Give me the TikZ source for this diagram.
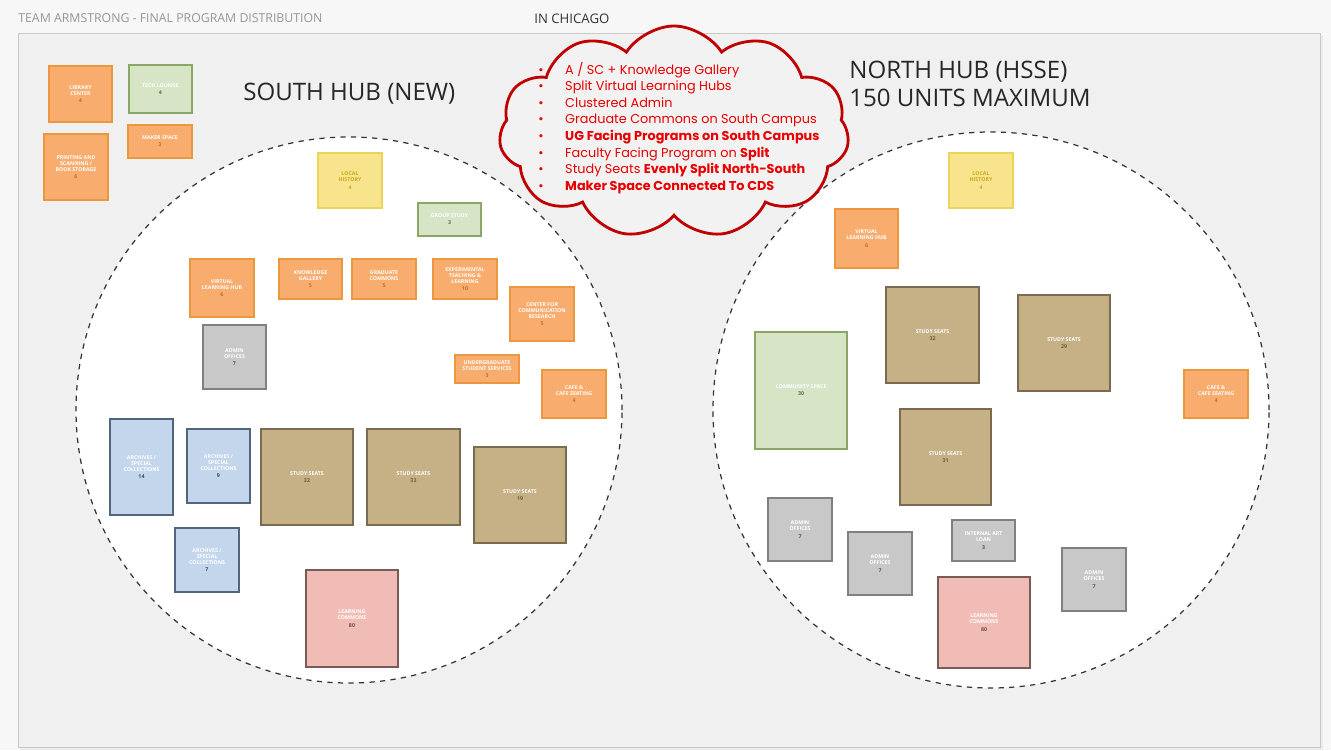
\documentclass[tikz,border=0pt]{standalone}
\usepackage{fontspec}
\setmainfont{Open Sans}
\newfontfamily\cloudfont{Poppins}
\usepackage{tikz}
\usetikzlibrary{shapes.symbols, positioning}
\definecolor{pagebg}{RGB}{247,247,247}
\definecolor{framebg}{RGB}{240,240,240}
\definecolor{frameline}{RGB}{200,200,200}
\definecolor{headgray}{RGB}{150,150,150}
\definecolor{orafill}{RGB}{248,172,110}
\definecolor{oraline}{RGB}{236,150,62}
\definecolor{oranum}{RGB}{196,110,40}
\definecolor{grnfill}{RGB}{215,228,198}
\definecolor{grnline}{RGB}{138,167,101}
\definecolor{grnnum}{RGB}{90,110,70}
\definecolor{yelfill}{RGB}{248,228,140}
\definecolor{yelline}{RGB}{236,212,88}
\definecolor{yelnum}{RGB}{200,168,30}
\definecolor{gryfill}{RGB}{200,200,200}
\definecolor{gryline}{RGB}{128,128,128}
\definecolor{grynum}{RGB}{80,80,80}
\definecolor{blufill}{RGB}{196,214,236}
\definecolor{bluline}{RGB}{82,101,126}
\definecolor{blunum}{RGB}{60,70,90}
\definecolor{tanfill}{RGB}{198,176,134}
\definecolor{tanline}{RGB}{122,106,82}
\definecolor{tannum}{RGB}{110,90,60}
\definecolor{pnkfill}{RGB}{242,188,182}
\definecolor{pnkline}{RGB}{122,92,86}
\definecolor{pnknum}{RGB}{110,70,65}
\definecolor{cloudline}{RGB}{192,0,0}
\definecolor{cloudtext}{RGB}{232,0,0}
\definecolor{cloudfill}{RGB}{242,242,242}
\newcommand{\units}[1]{\\[0.6pt]{\color{numcol}#1}}

\begin{document}
\begin{tikzpicture}[x=0.02cm, y=-0.02cm,
      room/.style 2 args={draw, line width=0.9pt, inner sep=1pt, align=center,
                text=white, minimum width=#1*0.02cm, minimum height=#2*0.02cm,
                font=\fontsize{3}{3.5}\selectfont\bfseries},
      ora/.style={fill=orafill, draw=oraline, execute at begin node=\colorlet{numcol}{oranum}},
      grn/.style={fill=grnfill, draw=grnline, execute at begin node=\colorlet{numcol}{grnnum}},
      yel/.style={fill=yelfill, draw=yelline, text=yelnum, execute at begin node=\colorlet{numcol}{yelnum}},
      gry/.style={fill=gryfill, draw=gryline, execute at begin node=\colorlet{numcol}{grynum}},
      blu/.style={fill=blufill, draw=bluline, execute at begin node=\colorlet{numcol}{blunum}},
      tan/.style={fill=tanfill, draw=tanline, execute at begin node=\colorlet{numcol}{tannum}},
      pnk/.style={fill=pnkfill, draw=pnkline, execute at begin node=\colorlet{numcol}{pnknum}},
      hub/.style={circle, draw=black!80, fill=white, dashed, line width=0.7pt,
                minimum size=#1*0.02cm, inner sep=0pt},
      title/.style={font=\fontsize{13.7}{16}\selectfont, text=black!85, inner sep=0pt}
    ]
      % page and frame
      \fill[pagebg] (0,0) rectangle (1331,750);
      \useasboundingbox (0,0) rectangle (1331,750);
      \fill[black!8] (20,35) rectangle (1323,750);
      \draw[frameline, fill=framebg] (18,33) rectangle (1320,747);
      \node[anchor=west, text=headgray, font=\fontsize{7}{8}\selectfont, inner sep=0pt] (head) at (18,18)
        {TEAM ARMSTRONG - FINAL PROGRAM DISTRIBUTION};
      \node[anchor=west, text=black!80, font=\fontsize{7.5}{9}\selectfont, inner sep=0pt] (city) at (534,19) {IN CHICAGO};

      % hubs
      \node[hub=546] (south) at (349,410) {};
      \node[hub=556] (north) at (991,410) {};
      \node[title, anchor=west] (southt) at (243,94) {SOUTH HUB (NEW)};
      \node[title, anchor=west, align=left] (northt) at (849,84) {NORTH HUB (HSSE)\\150 UNITS MAXIMUM};

      % outside south
      \node[room={63}{56}, ora] (lib) at (80.5,94) {LIBRARY\\CENTER\units{4}};
      \node[room={63}{48}, grn] (tech) at (160.5,89) {TECH LOUNGE\units{4}};
      \node[room={64}{66}, ora] (print) at (76,167) {PRINTING AND\\SCANNING /\\BOOK STORAGE\units{6}};
      \node[room={64}{33}, ora] (maker) at (160,141.5) {MAKER SPACE\units{3}};

      % south hub
      \node[room={64}{55}, yel] (hist) at (350,180.5) {LOCAL\\HISTORY\units{4}};
      \node[room={63}{33}, grn] (group) at (449.5,219.5) {GROUP STUDY\units{3}};
      \node[room={64}{58}, ora] (vlh) at (222,288) {VIRTUAL\\LEARNING HUB\units{6}};
      \node[room={63}{40}, ora] (know) at (310.5,279) {KNOWLEDGE\\GALLERY\units{5}};
      \node[room={64}{40}, ora] (grad) at (384,279) {GRADUATE\\COMMONS\units{5}};
      \node[room={64}{40}, ora] (exp) at (465,279) {EXPERIMENTAL\\TEACHING \&\\LEARNING\units{10}};
      \node[room={64}{54}, ora] (comm) at (542,314) {CENTER FOR\\COMMUNICATION\\RESEARCH\units{5}};
      \node[room={63}{64}, gry] (admin) at (234.5,357) {ADMIN\\OFFICES\units{7}};
      \node[room={64}{28}, ora] (ugss) at (487,369) {UNDERGRADUATE\\STUDENT SERVICES\units{3}};
      \node[room={64}{48}, ora] (cafe) at (574,394) {CAFE \&\\CAFE SEATING\units{4}};
      \node[room={63}{96}, blu] (arch) at (141.5,467) {ARCHIVES /\\SPECIAL\\COLLECTIONS\units{14}};
      \node[room={63}{74}, blu] (archb) at (218.5,466) {ARCHIVES /\\SPECIAL\\COLLECTIONS\units{9}};
      \node[room={64}{64}, blu] (archc) at (207,560) {ARCHIVES /\\SPECIAL\\COLLECTIONS\units{7}};
      \node[room={92}{96}, tan] (seat) at (307,477) {STUDY SEATS\units{32}};
      \node[room={93}{96}, tan] (seatb) at (413.5,477) {STUDY SEATS\units{33}};
      \node[room={92}{96}, tan] (seatc) at (520,495) {STUDY SEATS\units{19}};
      \node[room={92}{97}, pnk] (learn) at (352,618.5) {LEARNING\\COMMONS\units{80}};

      % north hub
      \node[room={64}{55}, yel] (nhist) at (981,180.5) {LOCAL\\HISTORY\units{4}};
      \node[room={63}{59}, ora] (nvlh) at (866.5,238.5) {VIRTUAL\\LEARNING HUB\units{6}};
      \node[room={93}{96}, tan] (nseat) at (932.5,335) {STUDY SEATS\units{32}};
      \node[room={92}{96}, tan] (nseatb) at (1064,343) {STUDY SEATS\units{29}};
      \node[room={92}{117}, grn] (ncomm) at (801,390.5) {COMMUNITY SPACE\units{30}};
      \node[room={91}{96}, tan] (nseatc) at (945.5,457) {STUDY SEATS\units{31}};
      \node[room={64}{63}, gry] (nadmin) at (800,529.5) {ADMIN\\OFFICES\units{7}};
      \node[room={64}{63}, gry] (nadminb) at (880,563.5) {ADMIN\\OFFICES\units{7}};
      \node[room={63}{41}, gry] (loan) at (983.5,540.5) {INTERNAL ART\\LOAN\units{3}};
      \node[room={92}{91}, pnk] (nlearn) at (984,622.5) {LEARNING\\COMMONS\units{80}};
      \node[room={64}{63}, gry] (nadminc) at (1094,579.5) {ADMIN\\OFFICES\units{7}};
      \node[room={64}{48}, ora] (ncafe) at (1216,394) {CAFE \&\\CAFE SEATING\units{4}};

      % cloud of goals
      \node[cloud, cloud puffs=11, cloud puff arc=115, aspect=1.6, draw=cloudline, fill=cloudfill,
            line width=1.6pt, minimum width=350*0.02cm, minimum height=212*0.02cm] (idea) at (674,132) {};
      \node[anchor=north west, align=left, text=cloudtext, inner sep=0pt,
            font=\cloudfont\fontsize{7.3}{9.4}\selectfont] (goals) at (538,62) {%
        \makebox[15.3pt][l]{•}A / SC + Knowledge Gallery\\
        \makebox[15.3pt][l]{•}Split Virtual Learning Hubs\\
        \makebox[15.3pt][l]{•}Clustered Admin\\
        \makebox[15.3pt][l]{•}Graduate Commons on South Campus\\
        \makebox[15.3pt][l]{•}\textbf{UG Facing Programs on South Campus}\\
        \makebox[15.3pt][l]{•}Faculty Facing Program on \textbf{Split}\\
        \makebox[15.3pt][l]{•}Study Seats \textbf{Evenly Split North-South}\\
        \makebox[15.3pt][l]{•}\textbf{Maker Space Connected To CDS}};
    \end{tikzpicture}
\end{document}
